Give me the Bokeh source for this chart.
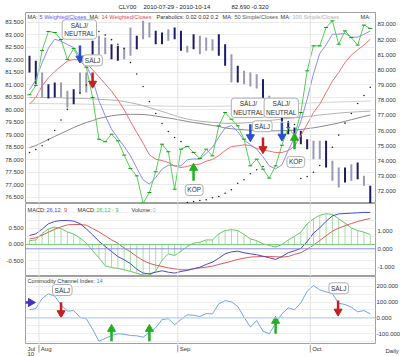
from bokeh.plotting import figure
from bokeh.models import Range1d, LinearAxis, FixedTicker, PrintfTickFormatter, Label, Span, Grid
from bokeh.layouts import column
from bokeh.embed import file_html
from bokeh.resources import INLINE

FONT = "Liberation Sans"

dates = ["2010-07-29", "2010-07-30",
         "2010-08-02", "2010-08-03", "2010-08-04", "2010-08-05", "2010-08-06",
         "2010-08-09", "2010-08-10", "2010-08-11", "2010-08-12", "2010-08-13",
         "2010-08-16", "2010-08-17", "2010-08-18", "2010-08-19", "2010-08-20",
         "2010-08-23", "2010-08-24", "2010-08-25", "2010-08-26", "2010-08-27",
         "2010-08-30", "2010-08-31",
         "2010-09-01", "2010-09-02", "2010-09-03",
         "2010-09-07", "2010-09-08", "2010-09-09", "2010-09-10",
         "2010-09-13", "2010-09-14", "2010-09-15", "2010-09-16", "2010-09-17",
         "2010-09-20", "2010-09-21", "2010-09-22", "2010-09-23", "2010-09-24",
         "2010-09-27", "2010-09-28", "2010-09-29", "2010-09-30",
         "2010-10-01", "2010-10-04", "2010-10-05", "2010-10-06", "2010-10-07",
         "2010-10-08", "2010-10-11", "2010-10-12", "2010-10-13", "2010-10-14"]
idx = list(range(len(dates)))

close = [78.36, 78.97, 81.28, 82.54, 82.47, 82.01, 80.69, 81.42, 80.60, 80.18,
         78.18, 75.43, 75.26, 75.76, 75.32, 74.38, 73.50, 73.01, 71.21, 71.91,
         73.28, 75.10, 74.60, 72.13, 74.77, 74.95, 74.55, 74.16,
         74.77, 74.33, 76.31, 77.19, 76.75, 76.31, 75.43, 73.67, 74.11, 73.45,
         72.86, 73.67, 75.03, 76.20, 75.65, 77.19, 79.94, 81.59, 81.59, 82.80,
         83.24, 81.70, 82.58, 82.14, 81.64, 82.96, 82.74]
wma5 = [78.69, 79.33, 80.49, 81.44, 82.03, 81.90, 81.68, 81.48, 80.84, 80.32,
        79.39, 77.96, 76.97, 76.09, 75.50, 74.95, 74.33, 73.52, 72.75, 72.46,
        72.90, 73.45, 73.72, 73.67, 73.67, 74.07, 74.13, 74.11,
        74.49, 74.90, 75.56, 76.18, 76.33, 75.92, 75.37, 75.08, 74.77, 74.27,
        73.67, 73.47, 73.74, 74.68, 75.54, 76.60, 78.07, 79.74, 81.09, 81.66,
        82.36, 82.36, 82.41, 82.16, 82.16, 82.36, 82.56]
wma14 = [77.74, 78.18, 78.95, 79.48, 79.90, 80.25, 80.58, 80.69, 80.65, 80.47,
         80.01, 79.55, 79.08, 78.60, 78.03, 77.37, 76.60, 75.87, 75.17, 74.40,
         74.11, 74.02, 73.89, 73.67, 73.56, 73.63, 73.76, 73.78,
         73.98, 74.09, 74.35, 74.68, 74.95, 74.99, 75.06, 75.01, 74.82, 74.73,
         74.64, 74.55, 74.55, 74.68, 74.97, 75.67, 76.42, 77.19, 77.74, 78.51,
         79.26, 79.83, 80.49, 80.98, 81.33, 81.64, 82.03]
sma50 = [74.88, 75.01, 75.21, 75.41, 75.61, 75.81, 76.00, 76.20, 76.37, 76.53,
         76.66, 76.80, 76.89, 76.97, 77.03, 77.06, 77.07, 77.07, 77.06, 77.02,
         76.96, 76.89, 76.83, 76.76, 76.68, 76.60, 76.53, 76.47, 76.40, 76.34,
         76.27, 76.17, 76.12, 76.08, 76.05, 76.02, 76.00, 75.99, 75.98, 75.98,
         75.99, 76.00, 76.03, 76.07, 76.12, 76.18, 76.25, 76.33, 76.41, 76.50,
         76.61, 76.72, 76.82, 76.93, 77.03]
sma100 = [78.18, 78.18, 78.18, 78.18, 78.17, 78.16, 78.14, 78.13, 78.12, 78.11,
          78.09, 78.06, 78.04, 78.02, 77.98, 77.92, 77.84, 77.75, 77.65, 77.52,
          77.39, 77.26, 77.13, 76.99, 76.86, 76.76, 76.68, 76.62, 76.58, 76.54,
          76.51, 76.47, 76.47, 76.48, 76.50, 76.54, 76.58, 76.62, 76.66, 76.71,
          76.76, 76.80, 76.84, 76.88, 76.93, 76.97, 77.03, 77.07, 77.11, 77.15,
          77.19, 77.21, 77.24, 77.26, 77.28]
ma3 = [77.79, 77.79, 77.78, 77.78, 77.77, 77.77, 77.76, 77.76, 77.75, 77.74,
       77.73, 77.72, 77.71, 77.70, 77.69, 77.68, 77.67, 77.66, 77.65, 77.64,
       77.63, 77.62, 77.61, 77.60, 77.60, 77.59, 77.59, 77.59, 77.59, 77.60,
       77.60, 77.61, 77.62, 77.63, 77.64, 77.65, 77.67, 77.69, 77.71, 77.73,
       77.75, 77.77, 77.79, 77.80, 77.82, 77.83, 77.85, 77.86, 77.87, 77.89,
       77.90, 77.91, 77.92, 77.94, 77.95]
bar_high = [80.93, 80.60, 79.83, 79.06, 79.17, 79.17, 78.62, 78.73, 79.83, 79.83,
            81.92, 82.25, 82.14, 81.70, 81.59, 81.48, 82.80, 82.25, 83.24, 83.13,
            82.58, 82.47, 82.69, 82.80, 82.58, 81.59, 82.36, 82.25,
            82.14, 82.03, 82.36, 81.70, 81.04, 80.27, 79.94, 79.83, 79.72, 79.39,
            78.30, 78.00, 77.60, 76.53, 76.20, 75.98, 75.43, 75.32, 75.32, 75.32,
            74.00, 73.56, 73.56, 73.78, 73.89, 73.01, 72.35]
bar_low = [79.83, 79.06, 78.18, 78.12, 78.18, 78.18, 77.52, 77.74, 78.40, 78.51,
           80.27, 80.93, 81.04, 80.71, 80.60, 80.71, 80.93, 81.37, 82.03, 82.14,
           81.70, 81.70, 81.92, 82.03, 81.26, 81.15, 81.37, 81.04,
           81.26, 81.26, 80.93, 80.27, 79.17, 79.17, 79.06, 78.91, 78.78, 77.41,
           77.20, 77.00, 76.60, 75.76, 75.40, 75.10, 74.77, 74.11, 74.11, 73.56,
           72.68, 72.24, 72.57, 72.68, 72.79, 72.35, 71.14]
bar_up = [1, 1, 0, 1, 1, 0, 0, 1, 0, 0, 1, 0, 0, 1, 1, 0, 0, 1, 0, 0,
          1, 1, 0, 1, 1, 0, 1, 0, 0, 0, 1, 1, 0, 1, 0, 0, 0, 1, 0, 0,
          1, 1, 1, 1, 1, 0, 0, 1, 0, 0, 1, 0, 1, 0, 1]
sar_x = [0, 1, 2, 3, 4, 5, 6, 7, 8, 9,
         11, 12, 13, 14, 15, 16, 17, 18, 19, 20, 21, 22, 23, 24,
         25, 26, 27, 28, 29, 30, 31, 32, 33, 34, 35, 36, 37,
         38, 39, 40, 41, 42,
         43, 44, 45, 46, 47, 48, 49, 50, 51, 52, 53, 54]
sar_v = [74.55, 74.75, 75.00, 75.40, 76.00, 76.70, 77.40, 78.00, 78.50, 79.00,
         82.54, 82.30, 82.00, 81.70, 81.42, 80.49, 79.73, 78.91, 77.92, 77.13, 76.47, 75.94, 75.54, 75.28,
         71.25, 71.32, 71.38, 71.43, 71.56, 71.65, 71.86, 72.09, 72.52, 72.75, 73.15, 73.41, 73.63,
         77.19, 77.00, 76.80, 76.60, 76.40,
         72.84, 72.97, 73.25, 73.69, 74.22, 74.90, 75.70, 76.49, 77.13, 77.79, 78.31, 78.86]

macd_hist = [0.12, 0.14, 0.34, 0.48, 0.54, 0.49, 0.39, 0.32, 0.20, 0.04,
             -0.19, -0.41, -0.66, -0.71, -0.74, -0.78, -0.83, -0.89, -0.94, -0.95,
             -0.82, -0.49, -0.29, -0.34, -0.21, -0.06, 0.04, 0.07,
             0.14, 0.14, 0.33, 0.43, 0.46, 0.43, 0.31, 0.17, 0.12, 0.02,
             -0.03, -0.08, 0.00, 0.14, 0.25, 0.38, 0.64, 0.79, 0.90, 0.95,
             0.93, 0.79, 0.66, 0.51, 0.43, 0.38, 0.31]
macd_line = [0.74, 0.83, 1.09, 1.39, 1.52, 1.57, 1.57, 1.54, 1.40, 1.11,
             0.78, 0.42, 0.13, -0.15, -0.43, -0.61, -0.83, -1.13, -1.35, -1.39,
             -1.30, -1.22, -1.30, -1.35, -1.26, -1.20, -1.11, -1.02,
             -0.87, -0.74, -0.52, -0.28, -0.17, -0.13, -0.22, -0.28, -0.33, -0.41,
             -0.50, -0.59, -0.43, -0.22, -0.11, 0.02, 0.40, 0.87, 1.16, 1.53,
             1.83, 1.94, 1.96, 1.98, 2.00, 2.02, 2.02]
macd_signal = [0.55, 0.61, 0.76, 0.92, 1.09, 1.22, 1.33, 1.35, 1.35, 1.31,
               1.13, 0.94, 0.72, 0.50, 0.31, 0.04, -0.17, -0.43, -0.65, -0.81,
               -0.91, -0.98, -1.06, -1.11, -1.17, -1.17, -1.11, -1.06,
               -1.02, -0.96, -0.87, -0.78, -0.69, -0.59, -0.52, -0.46, -0.44, -0.43,
               -0.43, -0.44, -0.46, -0.43, -0.31, -0.22, -0.02, 0.20, 0.46, 0.72,
               0.98, 1.15, 1.28, 1.40, 1.52, 1.61, 1.68]
cci = [51, 59, 122, 152, 137, 82, 42, 46, 4, -6,
       -72, -148, -131, -112, -101, -104, -112, -114, -123, -93,
       -63, -11, -6, -44, -11, 19, 16, 8,
       27, 25, 89, 109, 101, 72, 4, -59, -17, -85,
       -101, -34, 25, 63, 51, 95, 168, 204, 177, 164,
       152, 92, 84, 67, 38, 46, 25]

# signal arrows (x index, tail value, head value, kind) and their tag boxes
p_arrow_x = [8, 10, 35, 37, 40, 42, 26]
p_arrow_from = [81.61, 79.83, 76.42, 75.54, 76.53, 74.77, 72.68]
p_arrow_to = [80.76, 79.10, 75.57, 74.78, 75.61, 75.51, 73.53]
p_arrow_kind = ["neutral", "sell", "neutral", "sell", "neutral", "buy", "buy"]
p_tag_text = ["SÄLJ/\nNEUTRAL", "SÄLJ", "SÄLJ/\nNEUTRAL", "SÄLJ", "SÄLJ/\nNEUTRAL", "KÖP", "KÖP"]
p_tag_x = [7.9, 10.0, 34.7, 36.9, 39.9, 42.2, 26.1]
p_tag_y = [82.03, 80.27, 76.86, 75.92, 76.86, 74.29, 72.44]
c_arrow_x = [5, 13, 19, 39, 48.9]
c_arrow_from = [99, -148, -148, -101, 109]
c_arrow_to = [30, -71, -71, -20, 40]
c_arrow_kind = ["sell", "buy", "buy", "buy", "sell"]
c_tag_text = ["SÄLJ", "SÄLJ"]
c_tag_x = [5.2, 49.0]
c_tag_y = [141, 152]

price_left_ticks = [76.5, 77.0, 77.5, 78.0, 78.5, 79.0, 79.5, 80.0, 80.5, 81.0, 81.5, 82.0, 82.5, 83.0, 83.5]
price_right_ticks = [72, 73, 74, 75, 76, 77, 78, 79, 80, 81, 82, 83]
macd_left_ticks = [-0.5, 0.0, 0.5]
macd_right_ticks = [-1.0, 0.0, 1.0]
cci_ticks = [-100, 0, 100, 200]

COL = {"neutral": "#2b4fc9", "sell": "#c42020", "buy": "#22b022"}

month_starts = [i for i in range(1, len(dates)) if dates[i][5:7] != dates[i - 1][5:7]]
month_bounds = [i - 0.5 for i in month_starts]
month_names = {"08": "Aug", "09": "Sep", "10": "Oct"}

XR = Range1d(-0.634, 54.83)


def base(h, yr, yloc="right", outline="#a0a0a0"):
    p = figure(frame_width=350, frame_height=h, x_range=XR, y_range=yr,
               output_backend="svg", toolbar_location=None, title=None,
               min_border_left=25, min_border_right=25,
               min_border_top=0, min_border_bottom=0,
               x_axis_location=None, y_axis_location=yloc,
               background_fill_color="white", border_fill_color="white",
               outline_line_color=outline)
    p.grid.visible = False
    return p


def style_axis(ax, ticks):
    ax.ticker = FixedTicker(ticks=ticks)
    ax.formatter = PrintfTickFormatter(format="%.3f")
    ax.major_label_text_font = FONT
    ax.major_label_text_font_size = "6px"
    ax.major_label_text_color = "#333333"
    ax.major_label_standoff = 2
    ax.major_tick_out = 0
    ax.major_tick_in = 0
    ax.minor_tick_out = 0
    ax.minor_tick_in = 0
    ax.axis_line_color = None


def hgrid(p, ticks, yname="default", color="#ececec"):
    p.add_layout(Grid(dimension=1, ticker=FixedTicker(ticks=ticks), y_range_name=yname,
                      grid_line_color=color))


def vlines(p):
    for b in month_bounds:
        p.add_layout(Span(location=b, dimension="height", line_color="#e2e2e2", line_width=1))


def txt(p, x, y, text, color="#333333", size="5.6px", align="left", xu="screen", yu="screen"):
    p.add_layout(Label(x=x, y=y, x_units=xu, y_units=yu, text=text, text_font=FONT,
                       text_font_size=size, text_color=color, text_align=align,
                       text_baseline="middle"))


def tag(p, x, y, text, baseline):
    p.add_layout(Label(x=x, y=y, text=text, text_font=FONT, text_font_size="6.5px",
                       text_color="#333333", text_align="center", text_baseline=baseline,
                       background_fill_color="white", border_line_color="#b0b0b0",
                       border_line_width=1, padding=2, border_radius=3))


def arrows(p, xs, y0, y1, kinds, size=8):
    for x, a, b, k in zip(xs, y0, y1, kinds):
        c = COL[k]
        p.segment(x0=[x], y0=[a], x1=[x], y1=[b], line_color=c, line_width=2.5)
        m = "inverted_triangle" if b < a else "triangle"
        p.scatter([x], [b], marker=m, size=size, fill_color=c, line_color=c)


# ---------------- title strip ----------------
pt = base(12, Range1d(0, 12), yloc=None, outline=None)
txt(pt, 93, 6, "CLY00", "#222222", "6px")
txt(pt, 118, 6, "2010-07-29 - 2010-10-14", "#222222", "6px")
txt(pt, 206, 6, "82.690", "#222222", "6px")
txt(pt, 226, 6, "-0.320", "#222222", "6px")

# ---------------- price panel ----------------
p1 = base(191, Range1d(71.185, 83.792))
p1.extra_y_ranges = {"left": Range1d(76.248, 83.888)}
style_axis(p1.yaxis[0], price_right_ticks)
lax = LinearAxis(y_range_name="left")
style_axis(lax, price_left_ticks)
p1.add_layout(lax, "left")
hgrid(p1, price_left_ticks, "left")
vlines(p1)

p1.line(idx, ma3, line_color="#d4d4d4", line_width=1)
p1.line(idx, sma100, line_color="#b4b4b4", line_width=1)
p1.line(idx, sma50, line_color="#8a8a8a", line_width=1)
bar_cols = ["#1c1c6a" if u else "#9a9ab4" for u in bar_up]
p1.segment(x0=idx, y0=bar_low, x1=idx, y1=bar_high, line_color=bar_cols, line_width=2)
p1.line(idx, wma14, line_color="#f07070", line_width=1)
p1.line(idx, wma5, line_color="#8c8cf5", line_width=1)
p1.line(idx, close, line_color="#55d055", line_width=1)
p1.scatter(idx, close, marker="dash", size=4, line_color="#139a13", line_width=1)
p1.scatter(sar_x, sar_v, marker="circle", size=1.6, fill_color="#222222", line_color=None)
arrows(p1, p_arrow_x, p_arrow_from, p_arrow_to, p_arrow_kind, size=8)
for x, y, t, k in zip(p_tag_x, p_tag_y, p_tag_text, p_arrow_kind):
    tag(p1, x, y, t, "top" if k == "buy" else "bottom")

ly = 186.5
txt(p1, 2, ly, "MA:")
txt(p1, 14, ly, "5 Weighted/Closes", "#5a5af0")
txt(p1, 64, ly, "MA:")
txt(p1, 76, ly, "14 Weighted/Closes", "#e04848")
txt(p1, 131, ly, "Parabolics: 0.02 0.02 0.2")
txt(p1, 197, ly, "MA:")
txt(p1, 209, ly, "50 Simple/Closes", "#555555")
txt(p1, 255, ly, "MA:")
txt(p1, 267, ly, "100 Simple/Closes", "#b0b0b0")
txt(p1, 335, ly, "MA:")

# ---------------- MACD panel ----------------
p2 = base(73, Range1d(-1.539, 2.517))
p2.extra_y_ranges = {"left": Range1d(-0.988, 1.265)}
style_axis(p2.yaxis[0], macd_right_ticks)
lax2 = LinearAxis(y_range_name="left")
style_axis(lax2, macd_left_ticks)
p2.add_layout(lax2, "left")
hgrid(p2, [-0.75, -0.5, -0.25, 0.25, 0.5, 0.75, 1.0], "left", "#efefef")
vlines(p2)
p2.segment(x0=idx, y0=[0] * len(idx), x1=idx, y1=macd_hist, y_range_name="left",
           line_color="#a8dca8", line_width=1)
p2.add_layout(Span(location=0, dimension="width", y_range_name="left", line_color="#77d077", line_width=1))
p2.add_layout(Span(location=0, dimension="width", line_color="#8c8ce0", line_width=1))
p2.line(idx, macd_hist, y_range_name="left", line_color="#66c866", line_width=1)
p2.line(idx, macd_signal, line_color="#dd5a5a", line_width=1)
p2.line(idx, macd_line, line_color="#4a4ad0", line_width=1)
my = 67
txt(p2, 2, my, "MACD:")
txt(p2, 21, my, "26,12", "#4a4ad0")
txt(p2, 35.5, my, ": 9", "#dd4444")
txt(p2, 52, my, "MACD:")
txt(p2, 71, my, "26,12 - 9", "#44bb44")
txt(p2, 106, my, "Volume:")
txt(p2, 127, my, "0", "#9fb6e0")

# ---------------- CCI panel ----------------
p3 = base(68, Range1d(-168.99, 261.4))
style_axis(p3.yaxis[0], cci_ticks)
p3.yaxis[0].major_label_standoff = 1
hgrid(p3, [-150, -100, -50, 50, 100, 150, 200, 250], color="#efefef")
vlines(p3)
p3.add_layout(Span(location=0, dimension="width", line_color="#b6d0f0", line_width=1.2))
p3.line(idx, cci, line_color="#6fa6ea", line_width=1)
arrows(p3, c_arrow_x, c_arrow_from, c_arrow_to, c_arrow_kind, size=8)
p3.segment(x0=[-0.7], y0=[97], x1=[0.0], y1=[97], line_color="#4433bb", line_width=2.5)
p3.scatter([0.2], [97], marker="triangle", angle=-1.5708, size=8, fill_color="#4433bb", line_color="#4433bb")
for x, y, t in zip(c_tag_x, c_tag_y, c_tag_text):
    tag(p3, x, y, t, "bottom")
txt(p3, 2, 64, "Commodity Channel Index:")
txt(p3, 71, 64, "14", "#4a7fd8")

# ---------------- date strip ----------------
pb = base(12, Range1d(0, 12), yloc="right", outline=None)
dax = pb.yaxis[0]
dax.ticker = FixedTicker(ticks=[6])
dax.major_label_overrides = {6: "Daily"}
dax.major_label_text_font = FONT
dax.major_label_text_font_size = "6px"
dax.major_label_text_color = "#333333"
dax.major_label_standoff = 10
dax.major_tick_out = 0
dax.major_tick_in = 0
dax.minor_tick_out = 0
dax.axis_line_color = None
pb.segment(x0=month_bounds, y0=[12] * len(month_bounds), x1=month_bounds, y1=[4] * len(month_bounds),
           line_color="#9a9a9a", line_width=1)
txt(pb, 2, 7.5, "Jul", size="6px")
txt(pb, 2, 2.5, "10", size="6px")
for s, b in zip(month_starts, month_bounds):
    txt(pb, b + 0.3, 7.5, month_names[dates[s][5:7]], size="6px", xu="data")

layout = column(pt, p1, p2, p3, pb, spacing=0)
open("out.html", "w").write(file_html(layout, INLINE))
